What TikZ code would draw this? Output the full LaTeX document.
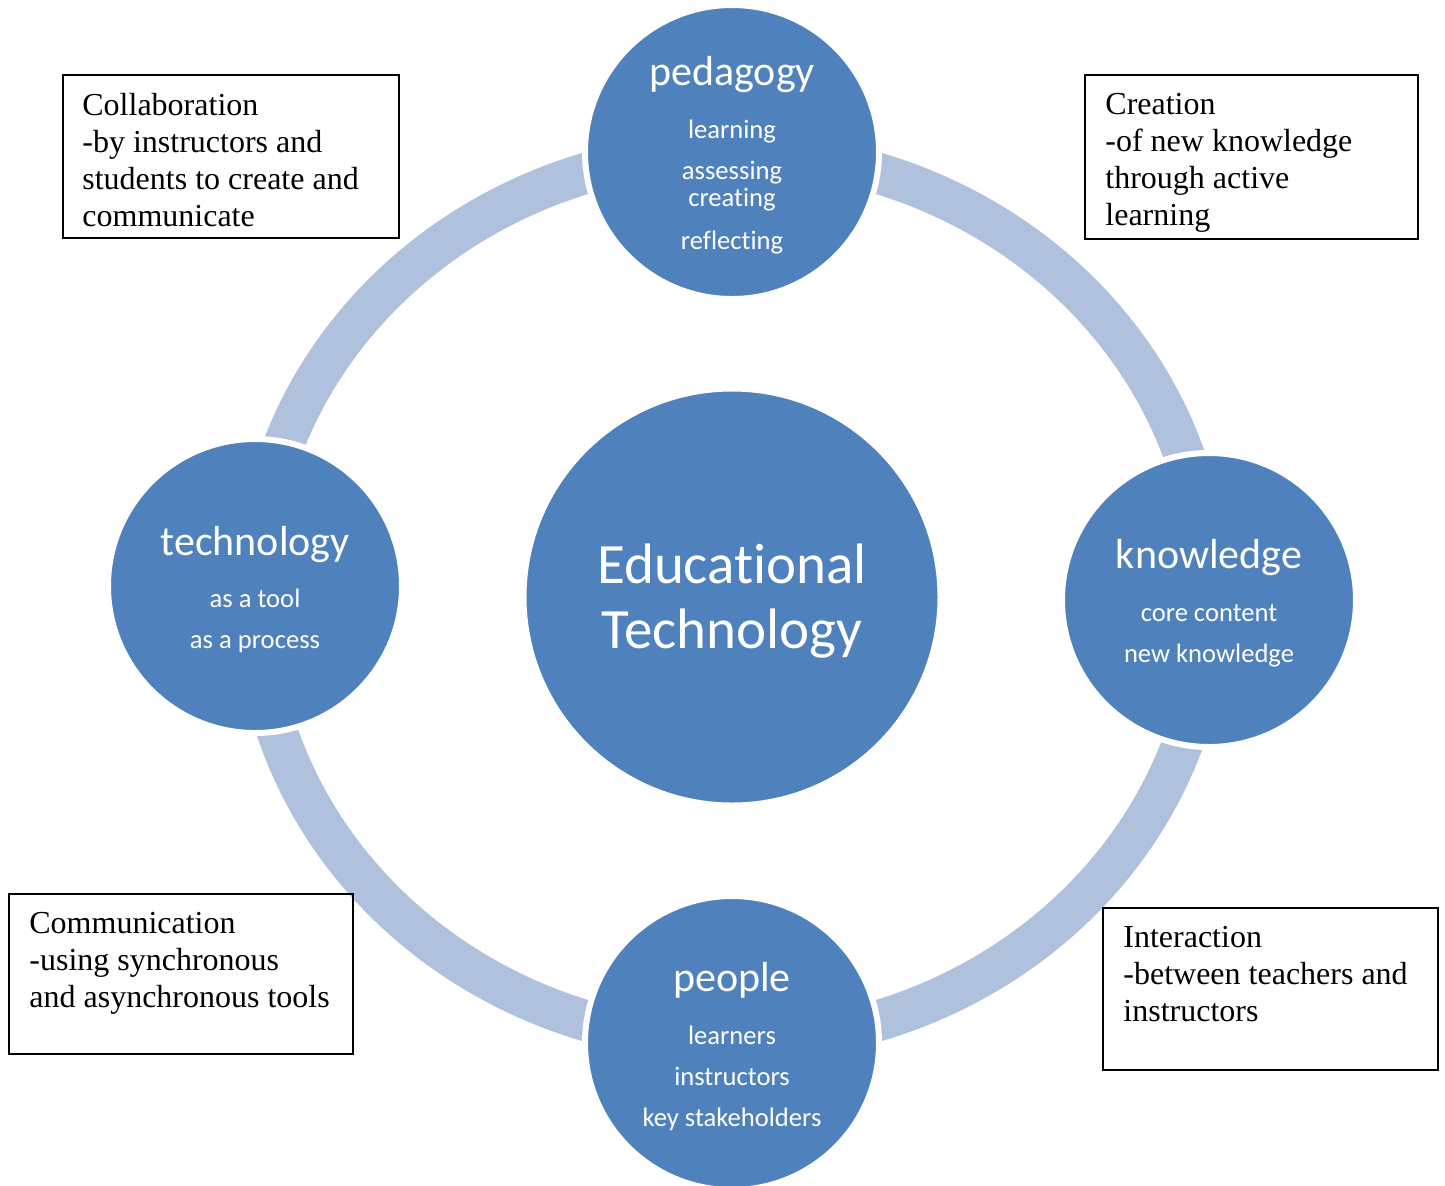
\documentclass[tikz,border=0pt]{standalone}
\usepackage{fontspec}
\setmainfont{Liberation Serif}
\newfontfamily\carlito[Ligatures=NoCommon]{Carlito}
\usetikzlibrary{calc}
\definecolor{etblue}{RGB}{79,129,189}
\definecolor{etring}{RGB}{176,193,221}
\newcommand{\headword}[1]{{\fontsize{21}{25}\selectfont\rule{0pt}{18pt}#1}}

\begin{document}
\begin{tikzpicture}[x=0.5pt, y=-0.5pt]
    \tikzset{
        hub/.style={circle, fill=etblue, draw=white, line width=3pt, text=white,
                    align=center, inner sep=0pt},
        spoke/.style={hub, minimum size=147pt, font=\carlito\fontsize{13.3}{20.5}\selectfont},
        ring/.style={draw=etring, line width=20.5pt},
        note/.style={rectangle, draw=black, line width=1.1pt, anchor=north west, inner sep=0pt},
        notetext/.style={anchor=north west, inner sep=0pt, align=left,
                         font=\fontsize{16}{18.5}\selectfont}
    }
    \useasboundingbox (0,0) rectangle (1445,1185);

    % Centre
    \node[hub, minimum size=208.5pt, font=\carlito\fontsize{28.5}{32.5}\selectfont]
        (core) at (732,597) {\rule{0pt}{24pt}Educational\\Technology};

    % Ring behind the outer circles
    \draw[ring] (core.center) ellipse [x radius=238.5pt, y radius=222.5pt];

    % Outer circles
    \node[spoke] (ped) at (732,152) {\headword{pedagogy}\\[6pt]learning\\assessing\\[-7pt]creating\\[1pt]reflecting};
    \node[spoke] (tec) at (255,586) {\headword{technology}\\[5.5pt]as a tool\\as a process};
    \node[spoke] (kno) at (1209,600) {\headword{knowledge}\\[6pt]core content\\new knowledge};
    \node[spoke] (peo) at (732,1043) {\headword{people}\\[6pt]learners\\instructors\\key stakeholders};

    % Notes
    \node[note, minimum width=168pt, minimum height=81.5pt] (collab) at (62,74) {};
    \node[note, minimum width=166.5pt, minimum height=82pt] (creat) at (1084,74) {};
    \node[note, minimum width=172pt, minimum height=80pt] (commu) at (8,893) {};
    \node[note, minimum width=167.5pt, minimum height=81pt] (inter) at (1102,907) {};

    \node[notetext] (collab-t) at ($(collab.north west)+(20,18.5)$)
        {Collaboration\\-by instructors and\\students to create and\\communicate};
    \node[notetext] (creat-t) at ($(creat.north west)+(21,18.5)$)
        {Creation\\-of new knowledge\\through active\\learning};
    \node[notetext] (commu-t) at ($(commu.north west)+(21,18.5)$)
        {Communication\\-using synchronous\\and asynchronous tools};
    \node[notetext] (inter-t) at ($(inter.north west)+(21,18.5)$)
        {Interaction\\-between teachers and\\instructors};
\end{tikzpicture}
\end{document}
